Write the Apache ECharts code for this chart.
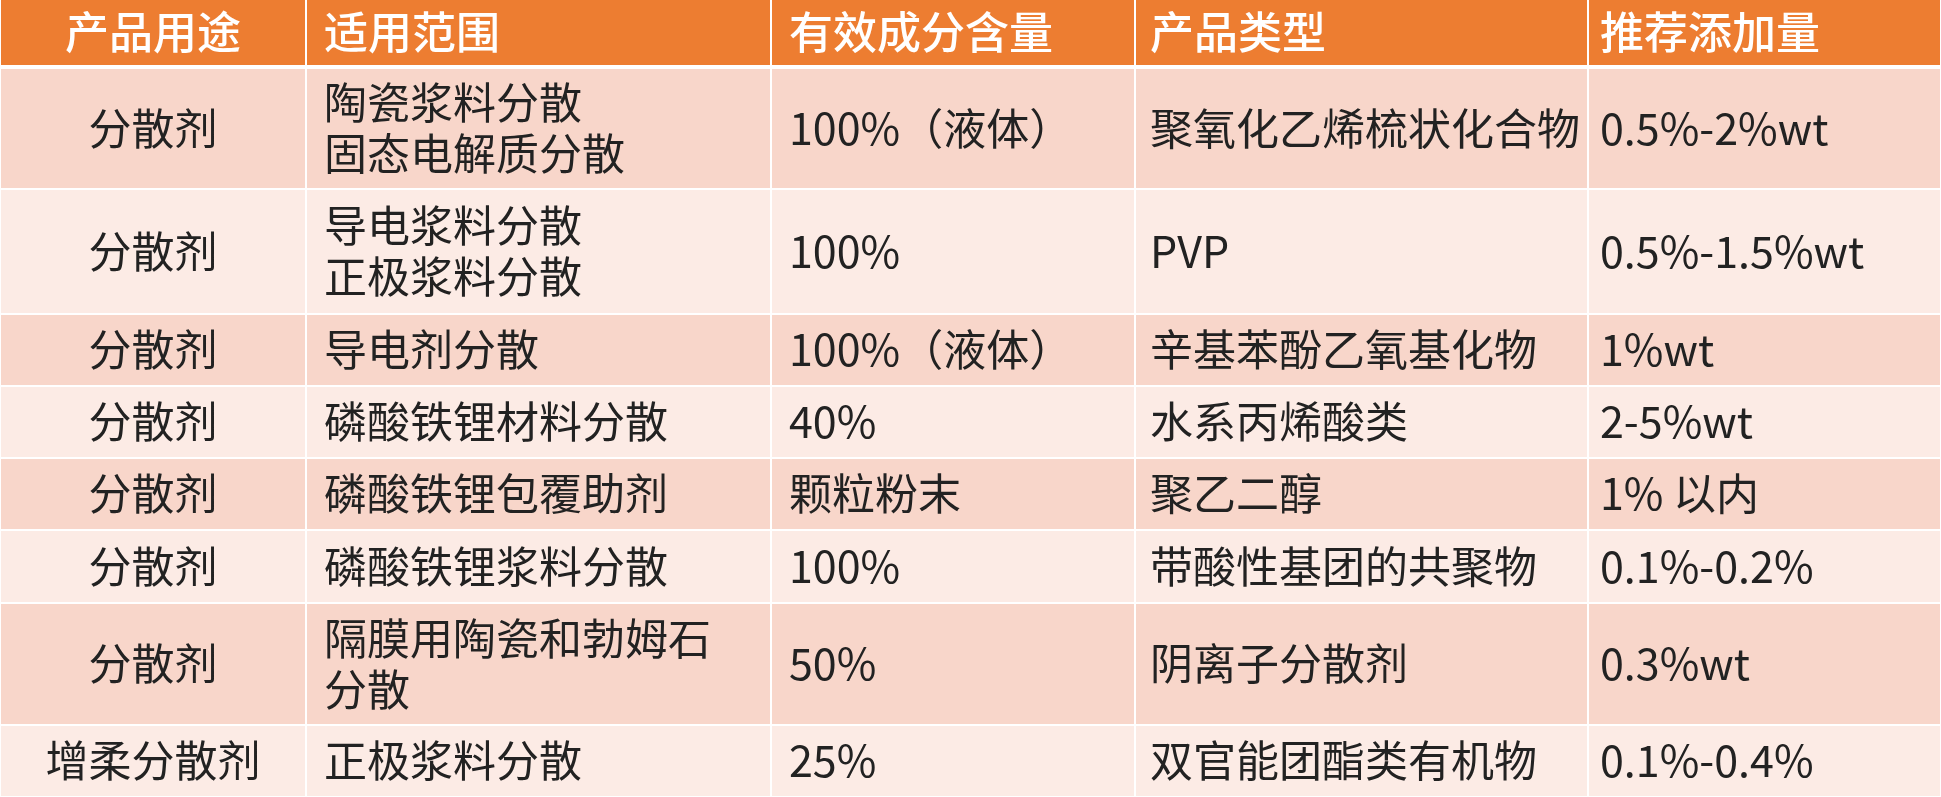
<!DOCTYPE html>
<html><head><meta charset="utf-8">
<script src="https://cdn.jsdelivr.net/npm/echarts@6/dist/echarts.min.js"></script>
<style>html,body{margin:0;padding:0;background:#fff}#c{width:1941px;height:797px}</style>
</head><body><div id="c"></div>
<script>
const headers = ['产品用途', '适用范围', '有效成分含量', '产品类型', '推荐添加量'];
const uses = ['分散剂', '分散剂', '分散剂', '分散剂', '分散剂', '分散剂', '分散剂', '增柔分散剂'];
const scopes = ['陶瓷浆料分散\n固态电解质分散', '导电浆料分散\n正极浆料分散', '导电剂分散', '磷酸铁锂材料分散',
    '磷酸铁锂包覆助剂', '磷酸铁锂浆料分散', '隔膜用陶瓷和勃姆石\n分散', '正极浆料分散'];
const contents = ['100%（液体）', '100%', '100%（液体）', '40%', '颗粒粉末', '100%', '50%', '25%'];
const types = ['聚氧化乙烯梳状化合物', 'PVP', '辛基苯酚乙氧基化物', '水系丙烯酸类', '聚乙二醇',
    '带酸性基团的共聚物', '阴离子分散剂', '双官能团酯类有机物'];
const doses = ['0.5%-2%wt', '0.5%-1.5%wt', '1%wt', '2-5%wt', '1% 以内', '0.1%-0.2%', '0.3%wt', '0.1%-0.4%'];

// layout
const colX = [0, 306, 771, 1135, 1588, 1941];
const padX = [0, 18, 18, 15, 12];
const rowY = [68, 189, 314, 386, 458, 530, 603, 725, 797];
const headerH = 65;
const font = '"Noto Sans CJK SC", "Noto Sans", sans-serif';

const chart = echarts.init(document.getElementById('c'));
const g = [];
headers.forEach((h, i) => {
    g.push({type: 'rect', shape: {x: colX[i] + 1, y: 0, width: colX[i + 1] - colX[i] - 2, height: headerH},
        style: {fill: '#ED7D31'}});
    g.push({type: 'text', x: i === 0 ? (colX[0] + colX[1]) / 2 : colX[i] + padX[i], y: headerH / 2,
        style: {text: h, fill: '#fff', font: `500 44px ${font}`, align: i === 0 ? 'center' : 'left', verticalAlign: 'middle'}});
});
const cols = [uses, scopes, contents, types, doses];
uses.forEach((_, r) => {
    const y0 = rowY[r], y1 = rowY[r + 1];
    cols.forEach((col, i) => {
        g.push({type: 'rect', shape: {x: colX[i] + 1, y: y0 + 1, width: colX[i + 1] - colX[i] - 2, height: y1 - y0 - 2},
            style: {fill: r % 2 === 0 ? '#F8D6CA' : '#FCEBE5'}});
        g.push({type: 'text', x: i === 0 ? (colX[0] + colX[1]) / 2 : colX[i] + padX[i], y: (y0 + y1) / 2,
            style: {text: col[r], fill: '#222', font: `43px ${font}`, lineHeight: 51,
                align: i === 0 ? 'center' : 'left', verticalAlign: 'middle'}});
    });
});
chart.setOption({animation: false, graphic: g});
</script></body></html>
